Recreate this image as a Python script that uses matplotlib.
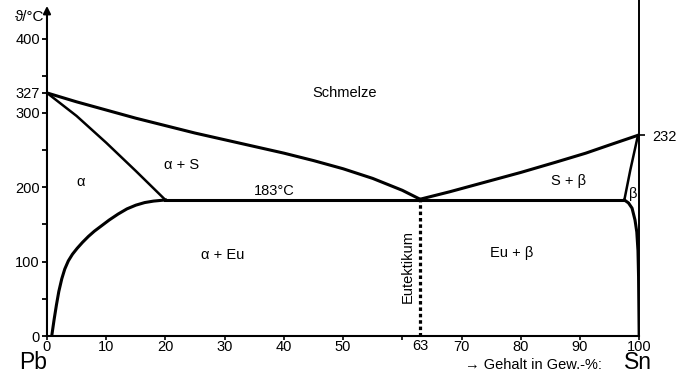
import matplotlib
matplotlib.use('Agg')
import matplotlib.pyplot as plt

plt.rcParams['font.family'] = ['Liberation Sans', 'DejaVu Sans']

# Liquidus (Pb-Seite und Sn-Seite)
liq_left_x = [0, 5, 10, 15, 20, 25, 30, 35, 40, 45, 50, 55, 60, 63]
liq_left_t = [327, 315, 304, 293, 283, 273, 264, 255, 246, 236, 225, 212, 196, 184]
liq_right_x = [63, 68, 74, 80, 86, 91, 95, 99.8]
liq_right_t = [184, 194, 207, 220, 234, 246, 257, 270]

# Solidus
sol_left_x = [0, 5, 10, 15, 20]
sol_left_t = [327, 296, 260, 222, 183]
sol_right_x = [97.5, 98.5, 99.8]
sol_right_t = [183, 223, 270]

# Loeslichkeitsgrenzen
solv_left_x = [0.8, 1.2, 1.6, 2.0, 2.5, 3.0, 3.6, 4.3, 5.1, 6, 7, 8, 9,
               10.5, 12, 13.5, 15, 16.5, 18, 20]
solv_left_t = [0, 22, 42, 60, 77, 90, 101, 110, 118, 126, 134, 141, 147,
               156, 164, 171, 176, 179.5, 181.5, 183]
solv_right_x = [97.5, 98.2, 98.8, 99.3, 99.6, 99.8, 99.9, 100]
solv_right_t = [183, 179, 172, 156, 140, 115, 80, 0]

# Eutektikale und Eutektikum
eut_x = [20, 97.5]
eut_t = [183, 183]
eut_conc = 63

x_ticks = [0, 10, 20, 30, 40, 50, 60, 70, 80, 90, 100]
x_labels = ['0', '10', '20', '30', '40', '50', '', '70', '80', '90', '100']
y_ticks = [0, 100, 200, 300, 327, 400]
y_minor = [50, 150, 250, 350]
sn_mark = 270
sn_label = '232'

fig = plt.figure(figsize=(6.93, 3.74), dpi=100)
ax = fig.add_axes([0.0678, 0.1016, 0.8545, 0.8984])

lw = 2.2
ax.plot(liq_left_x, liq_left_t, color='k', lw=lw, solid_capstyle='round')
ax.plot(liq_right_x, liq_right_t, color='k', lw=lw, solid_capstyle='round')
ax.plot(sol_left_x, sol_left_t, color='k', lw=1.8)
ax.plot(sol_right_x, sol_right_t, color='k', lw=1.8)
ax.plot(solv_left_x, solv_left_t, color='k', lw=lw)
ax.plot(solv_right_x, solv_right_t, color='k', lw=lw)
ax.plot(eut_x, eut_t, color='k', lw=lw)
ax.plot([eut_conc, eut_conc], [0, eut_t[0]], color='k', lw=2.3,
        linestyle=(0, (1.1, 0.9)))

ax.set_xlim(0, 100)
ax.set_ylim(0, 452)
ax.spines['top'].set_visible(False)
ax.spines['left'].set_visible(False)
ax.spines['bottom'].set_linewidth(1.5)
ax.spines['right'].set_linewidth(1.4)

# y-Achse mit Pfeil
ax.annotate('', xy=(0, 444), xytext=(0, 0),
            arrowprops=dict(arrowstyle='-|>', lw=1.5, color='k',
                            mutation_scale=11, shrinkA=0, shrinkB=0))

ax.set_yticks(y_ticks)
ax.set_yticks(y_minor, minor=True)
ax.tick_params(axis='y', which='both', length=3.6, width=1.3, pad=1.5,
               labelsize=10.5, direction='out')
ax.set_xticks(x_ticks, x_labels)
ax.set_xticks([eut_conc], ['63'], minor=True)
ax.tick_params(axis='x', which='major', length=3, width=1.2, pad=0,
               labelsize=10.5, direction='out')
ax.tick_params(axis='x', which='minor', length=0, pad=2.5, labelsize=10.5)

ax2 = ax.twinx()
ax2.set_ylim(ax.get_ylim())
ax2.set_yticks([sn_mark], [sn_label])
ax2.tick_params(axis='y', length=4.3, width=1.2, pad=5, labelsize=10.5)
for s in ax2.spines.values():
    s.set_visible(False)

fs = 10.5
ax.text(50.3, 327, 'Schmelze', ha='center', va='center', fontsize=fs)
ax.text(22.8, 230, 'α + S', ha='center', va='center', fontsize=fs)
ax.text(5.6, 207, 'α', ha='center', va='center', fontsize=fs)
ax.text(38.4, 195, '183°C', ha='center', va='center', fontsize=fs)
ax.text(88, 209, 'S + β', ha='center', va='center', fontsize=fs)
ax.text(99, 191, 'β', ha='center', va='center', fontsize=fs)
ax.text(29.7, 109, 'α + Eu', ha='center', va='center', fontsize=fs)
ax.text(78.5, 112, 'Eu + β', ha='center', va='center', fontsize=fs)
ax.text(60.9, 93, 'Eutektikum', ha='center', va='center', rotation=90,
        fontsize=fs)
ax.text(-0.5, 429, 'ϑ/°C', ha='right', va='center', fontsize=11,
        clip_on=False)

fig.text(33 / 693, 5 / 374, 'Pb', ha='center', va='baseline', fontsize=16.5)
fig.text(638 / 693, 5 / 374, 'Sn', ha='center', va='baseline', fontsize=16.5)
fig.text(602 / 693, 5 / 374, '→ Gehalt in Gew.-%:', ha='right',
         va='baseline', fontsize=10.5)

fig.savefig('out.png', dpi=100)
